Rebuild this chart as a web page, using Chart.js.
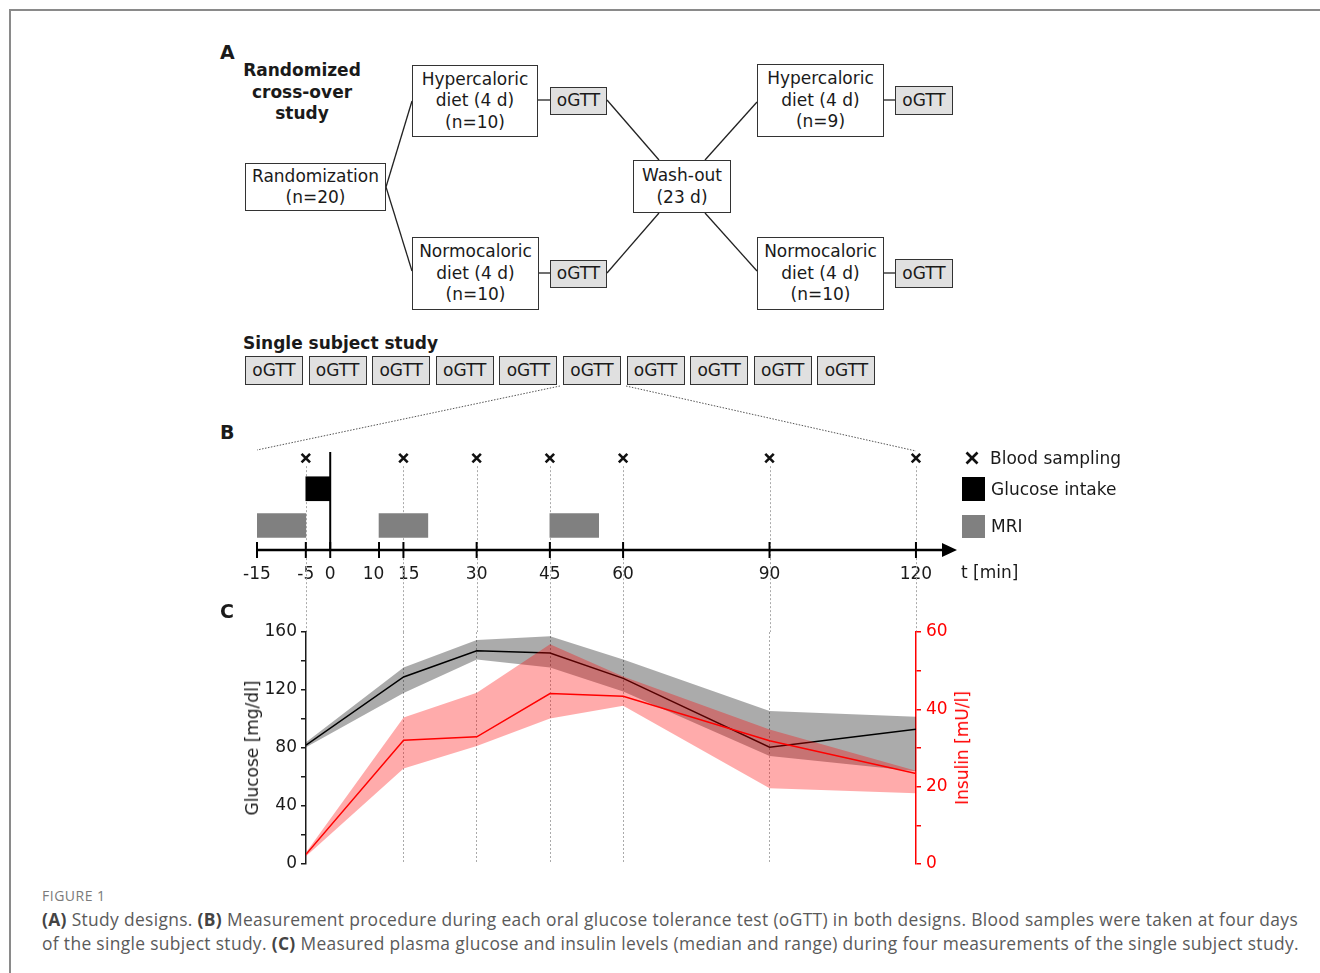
<!DOCTYPE html>
<html lang="en">
<head>
<meta charset="UTF-8">
<title>Figure 1 - oGTT study design and measurements</title>
<script src="https://cdn.jsdelivr.net/npm/chart.js"></script>
<style>
  html, body { margin: 0; padding: 0; background: #fff; }
  body { width: 1320px; height: 973px; position: relative; overflow: hidden;
         font-family: "DejaVu Sans", sans-serif; color: #1a1a1a; }
  .abs { position: absolute; }
  .frame { left: 9px; top: 9px; width: 1400px; height: 1100px;
           border-left: 2px solid #8a8a8a; border-top: 2px solid #8a8a8a; }
  .box { position: absolute; box-sizing: border-box; border: 1px solid #333; background: #fff;
         display: flex; align-items: center; justify-content: center; text-align: center;
         font-size: 17px; line-height: 21.5px; }
  .og { background: #e0e0e0; }
  .bold { font-weight: bold; }
  .lbl { position: absolute; font-size: 17px; line-height: 22px; white-space: nowrap; }
  .panel { position: absolute; font-weight: bold; font-size: 19px; }
  .cap { position: absolute; left: 42px; font-family: "Open Sans", sans-serif; color: #5a5a5a;
         white-space: nowrap; }
  .cap b { color: #444; }
  canvas { position: absolute; }
</style>
</head>
<body>
<div class="abs frame"></div>

<!-- panel A -->
<div class="panel" style="left:220px;top:41px;">A</div>
<div class="lbl bold" style="left:222px;top:60px;width:160px;text-align:center;line-height:21.5px;white-space:normal;">Randomized<br>cross-over<br>study</div>

<svg class="abs" style="left:0;top:0;" width="1320" height="973">
  <g stroke="#222" stroke-width="1.3" fill="none">
    <line x1="386" y1="187" x2="412" y2="101"/>
    <line x1="386" y1="187" x2="412" y2="271"/>
    <line x1="538" y1="100" x2="550" y2="100"/>
    <line x1="539" y1="273" x2="550" y2="273"/>
    <line x1="607" y1="100" x2="659" y2="160"/>
    <line x1="705" y1="160" x2="757" y2="102"/>
    <line x1="607" y1="273" x2="659" y2="213"/>
    <line x1="705" y1="213" x2="757" y2="271"/>
    <line x1="884" y1="100" x2="895" y2="100"/>
    <line x1="884" y1="273" x2="895" y2="273"/>
  </g>
  <g stroke="#555" stroke-width="1" stroke-dasharray="1.5 1.5" fill="none">
    <line x1="560" y1="386" x2="257" y2="450"/>
    <line x1="626" y1="386" x2="916" y2="451"/>
  </g>
  <g stroke="#111" stroke-width="2.6">
    <line x1="966.5" y1="452.5" x2="977.5" y2="463.5"/>
    <line x1="977.5" y1="452.5" x2="966.5" y2="463.5"/>
  </g>
</svg>

<div class="box" style="left:245px;top:163px;width:141px;height:48px;">Randomization<br>(n=20)</div>
<div class="box" style="left:412px;top:65px;width:126px;height:72px;">Hypercaloric<br>diet (4 d)<br>(n=10)</div>
<div class="box" style="left:412px;top:237px;width:127px;height:73px;">Normocaloric<br>diet (4 d)<br>(n=10)</div>
<div class="box og" style="left:550px;top:87px;width:57px;height:28px;">oGTT</div>
<div class="box og" style="left:550px;top:260px;width:57px;height:28px;">oGTT</div>
<div class="box" style="left:633px;top:160px;width:98px;height:53px;">Wash-out<br>(23 d)</div>
<div class="box" style="left:757px;top:64px;width:127px;height:73px;">Hypercaloric<br>diet (4 d)<br>(n=9)</div>
<div class="box" style="left:757px;top:237px;width:127px;height:73px;">Normocaloric<br>diet (4 d)<br>(n=10)</div>
<div class="box og" style="left:895px;top:86px;width:58px;height:29px;">oGTT</div>
<div class="box og" style="left:895px;top:259px;width:58px;height:29px;">oGTT</div>

<div class="lbl bold" style="left:243px;top:332px;">Single subject study</div>
<div id="singleRow"></div>

<!-- panel B -->
<div class="panel" style="left:220px;top:421px;">B</div>
<canvas id="timeline" width="800" height="192" style="left:200px;top:440px;"></canvas>
<div class="lbl" style="left:990px;top:447px;">Blood sampling</div>
<div class="abs" style="left:962px;top:477px;width:23px;height:24px;background:#000;"></div>
<div class="lbl" style="left:991px;top:478px;">Glucose intake</div>
<div class="abs" style="left:962px;top:515px;width:23px;height:23px;background:#808080;"></div>
<div class="lbl" style="left:991px;top:515px;">MRI</div>
<div class="lbl" style="left:961px;top:561px;">t [min]</div>

<!-- panel C -->
<div class="panel" style="left:220px;top:600px;">C</div>
<canvas id="levels" width="820" height="290" style="left:200px;top:600px;"></canvas>
<div class="lbl" style="left:252px;top:748px;transform:translate(-50%,-50%) rotate(-90deg);">Glucose [mg/dl]</div>
<div class="lbl" style="left:962px;top:748px;color:#f00;transform:translate(-50%,-50%) rotate(-90deg);">Insulin [mU/l]</div>

<!-- caption -->
<div class="cap" style="top:886px;font-size:14px;letter-spacing:0.5px;color:#7a7a7a;">FIGURE 1</div>
<div class="cap" style="top:907px;font-size:17.4px;letter-spacing:0.34px;line-height:24px;">
<b>(A)</b> Study designs. <b>(B)</b> Measurement procedure during each oral glucose tolerance test (oGTT) in both designs. Blood samples were taken at four days<br>
of the single subject study. <b>(C)</b> Measured plasma glucose and insulin levels (median and range) during four measurements of the single subject study.
</div>

<script>
// sampling times in minutes (blood samples)
const sampleTimes = [-5, 15, 30, 45, 60, 90, 120];
const timelineTicks = [-15, -5, 0, 10, 15, 30, 45, 60, 90, 120];
const intakeWindow = [-5, 0];
const mriWindows = [[-15, -5], [10, 20], [45, 55]];

// glucose [mg/dl], median and range
const glucoseMedian = [82, 129, 147, 145.5, 128, 80.5, 93];
const glucoseMin = [80.5, 118, 141, 135.5, 119, 74.5, 64];
const glucoseMax = [84, 135.5, 154.5, 157, 141, 105.5, 101.5];
// insulin [mU/l], median and range
const insulinMedian = [2.5, 32, 32.9, 44.1, 43.4, 31.9, 23.4];
const insulinMin = [2, 24.7, 30.5, 37.6, 40.9, 19.6, 18.3];
const insulinMax = [3, 37.9, 44.3, 56.8, 48.5, 34.8, 24.1];

const singleStudyCount = 10;

// row of oGTT boxes for the single subject study
const row = document.getElementById('singleRow');
for (let i = 0; i < singleStudyCount; i++) {
    const d = document.createElement('div');
    d.className = 'box og';
    d.style.left = (245 + 63.6 * i) + 'px';
    d.style.top = '356px';
    d.style.width = '58px';
    d.style.height = '29px';
    d.textContent = 'oGTT';
    row.appendChild(d);
}

const font17 = { family: 'DejaVu Sans', size: 17 };
const ink = '#1a1a1a';

// rows of the timeline (y values)
const rowSampling = 3.75, rowIntake = 2.5, rowMri = 1;

// 10 and 15 sit close together, so their labels are pushed apart a little
const tickText = v => v === 10 ? '10  ' : v === 15 ? '  15' : String(v);

const timelinePlugin = {
    id: 'timelineDeco',
    beforeDatasetsDraw(chart) {
        const { ctx, chartArea, scales: { x, y } } = chart;
        ctx.save();
        // dotted sampling lines, running down into panel C
        ctx.strokeStyle = '#aaa';
        ctx.lineWidth = 1;
        ctx.setLineDash([2, 2]);
        const top = y.getPixelForValue(rowSampling) + 8;
        sampleTimes.forEach(t => {
            const px = Math.round(x.getPixelForValue(t)) + 0.5;
            ctx.beginPath();
            ctx.moveTo(px, top);
            ctx.lineTo(px, chart.height);
            ctx.stroke();
        });
        ctx.setLineDash([]);
        // time zero line
        const p0 = x.getPixelForValue(0);
        ctx.strokeStyle = '#000';
        ctx.lineWidth = 2;
        ctx.beginPath();
        ctx.moveTo(p0, chartArea.top);
        ctx.lineTo(p0, chartArea.bottom);
        ctx.stroke();
        ctx.restore();
    },
    afterDatasetsDraw(chart) {
        const { ctx, chartArea, scales: { x } } = chart;
        const y0 = chartArea.bottom;
        const tip = chartArea.right + 2;
        ctx.save();
        ctx.strokeStyle = '#000';
        ctx.fillStyle = '#000';
        ctx.lineWidth = 2.5;
        ctx.beginPath();
        ctx.moveTo(x.getPixelForValue(timelineTicks[0]), y0);
        ctx.lineTo(tip - 12, y0);
        ctx.stroke();
        ctx.beginPath();
        ctx.moveTo(tip, y0);
        ctx.lineTo(tip - 15, y0 - 7);
        ctx.lineTo(tip - 15, y0 + 7);
        ctx.closePath();
        ctx.fill();
        ctx.lineWidth = 2;
        timelineTicks.forEach(v => {
            const px = x.getPixelForValue(v);
            ctx.beginPath();
            ctx.moveTo(px, y0 - 8);
            ctx.lineTo(px, y0 + 8);
            ctx.stroke();
        });
        ctx.restore();
    }
};

const windows = [intakeWindow].concat(mriWindows);
new Chart(document.getElementById('timeline'), {
    type: 'bar',
    data: {
        datasets: [
            {
                type: 'scatter',
                label: 'Blood sampling',
                data: sampleTimes.map(t => ({ x: t, y: rowSampling })),
                pointStyle: 'crossRot',
                pointRadius: 6,
                borderWidth: 2.6,
                borderColor: '#111',
                clip: false
            },
            {
                label: 'Glucose intake / MRI',
                data: windows.map((w, i) => ({ x: w, y: i === 0 ? rowIntake : rowMri })),
                backgroundColor: windows.map((w, i) => i === 0 ? '#000' : '#808080'),
                barThickness: 24,
                borderWidth: 0
            }
        ]
    },
    options: {
        responsive: false,
        animation: false,
        devicePixelRatio: 1,
        events: [],
        indexAxis: 'y',
        layout: { padding: { left: 57, right: 45, top: 12, bottom: 0 } },
        plugins: { legend: { display: false }, tooltip: { enabled: false } },
        scales: {
            x: {
                type: 'linear', position: 'bottom', min: -15, max: 128, offset: false, stacked: false,
                afterBuildTicks: s => { s.ticks = timelineTicks.map(v => ({ value: v })); },
                afterFit: s => { s.height = 82; },
                grid: { display: false, drawTicks: false },
                border: { display: false },
                ticks: { autoSkip: false, maxRotation: 0, padding: 14, font: font17, color: ink,
                         callback: tickText }
            },
            y: { type: 'linear', min: 0, max: 4, display: false, offset: false }
        }
    },
    plugins: [timelinePlugin]
});

const pts = arr => sampleTimes.map((t, i) => ({ x: t, y: arr[i] }));
const hidden = { borderColor: 'transparent', pointRadius: 0, tension: 0 };

new Chart(document.getElementById('levels'), {
    type: 'line',
    data: {
        datasets: [
            Object.assign({ label: 'Glucose min', data: pts(glucoseMin), yAxisID: 'y', fill: false, order: 4 }, hidden),
            Object.assign({ label: 'Glucose max', data: pts(glucoseMax), yAxisID: 'y', fill: '-1',
                            backgroundColor: 'rgba(0,0,0,0.33)', order: 4 }, hidden),
            { label: 'Glucose', data: pts(glucoseMedian), yAxisID: 'y', borderColor: '#000',
              borderWidth: 1.5, pointRadius: 0, tension: 0, order: 3 },
            Object.assign({ label: 'Insulin min', data: pts(insulinMin), yAxisID: 'y1', fill: false, order: 2 }, hidden),
            Object.assign({ label: 'Insulin max', data: pts(insulinMax), yAxisID: 'y1', fill: '-1',
                            backgroundColor: 'rgba(255,0,0,0.33)', order: 2 }, hidden),
            { label: 'Insulin', data: pts(insulinMedian), yAxisID: 'y1', borderColor: '#f00',
              borderWidth: 1.5, pointRadius: 0, tension: 0, order: 1 }
        ]
    },
    options: {
        responsive: false,
        animation: false,
        devicePixelRatio: 1,
        events: [],
        layout: { padding: { top: 32, bottom: 26, left: 0, right: 0 } },
        plugins: { legend: { display: false }, tooltip: { enabled: false } },
        scales: {
            x: {
                type: 'linear', min: -5, max: 120,
                afterBuildTicks: s => { s.ticks = sampleTimes.map(v => ({ value: v })); },
                afterFit: s => { s.height = 0; },
                ticks: { display: false },
                grid: {
                    drawTicks: false, lineWidth: 1,
                    color: c => (c.tick && (c.tick.value === -5 || c.tick.value === 120)) ? 'transparent' : '#aaa'
                },
                border: { display: false, dash: [2, 2] }
            },
            y: {
                position: 'left', min: 0, max: 160,
                afterFit: s => { s.width = 106; },
                ticks: { stepSize: 20, autoSkip: false, padding: 4, font: font17, color: ink,
                         callback: v => v % 40 === 0 ? String(v) : '' },
                grid: { drawOnChartArea: false, tickLength: 5, color: ink, lineWidth: 1.5 },
                border: { color: ink, width: 1.5 }
            },
            y1: {
                position: 'right', min: 0, max: 60,
                afterFit: s => { s.width = 104; },
                ticks: { stepSize: 10, autoSkip: false, padding: 5, font: font17, color: '#f00',
                         callback: v => v % 20 === 0 ? String(v) : '' },
                grid: { drawOnChartArea: false, tickLength: 5, color: '#f00', lineWidth: 1.5 },
                border: { color: '#f00', width: 1.5 }
            }
        }
    }
});
</script>
</body>
</html>
